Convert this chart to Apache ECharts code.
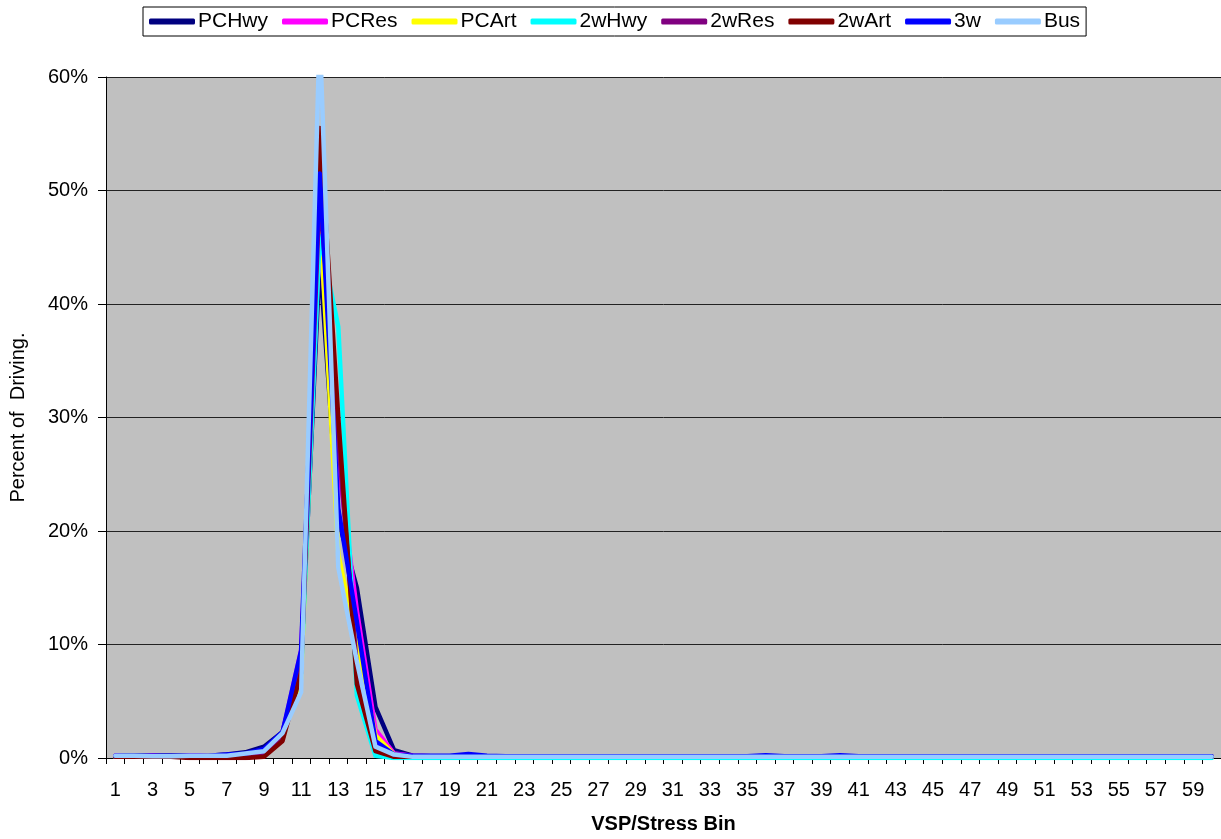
<!DOCTYPE html>
<html>
<head>
<meta charset="utf-8">
<script src="https://cdn.jsdelivr.net/npm/echarts@6/dist/echarts.min.js"></script>
<style>
html,body{margin:0;padding:0;background:#fff;}
#chart{width:1221px;height:839px;}
</style>
</head>
<body>
<div id="chart"></div>
<script>
var bins = [];
for (var i = 1; i <= 60; i++) bins.push(String(i));

var seriesNames = ['PCHwy','PCRes','PCArt','2wHwy','2wRes','2wArt','3w','Bus'];
var seriesColors = ['#000080','#FF00FF','#FFFF00','#00FFFF','#800080','#800000','#0000FF','#99CCFF'];

var PCHwy = [0.2,0.2,0.2,0.2,0.2,0.2,0.3,0.5,1.0,2.3,8.5,44,21,15,4.5,0.7,0.2,0.15,0.15,0.2,0.1,0.1,0.1,0.1,0.1,0.1,0.1,0.1,0.1,0.1,0.1,0.1,0.1,0.1,0.1,0.15,0.1,0.1,0.1,0.15,0.1,0.1,0.1,0.1,0.1,0.1,0.1,0.1,0.1,0.1,0.1,0.1,0.1,0.1,0.1,0.1,0.1,0.1,0.1,0.1];
var PCRes = [0.2,0.1,0.2,0.1,0.2,0.2,0.2,0.3,0.7,2.2,9.5,46,26,13,2.5,0.4,0.2,0.15,0.1,0.2,0.1,0.1,0.1,0.1,0.1,0.1,0.1,0.1,0.1,0.1,0.1,0.1,0.1,0.1,0.1,0.15,0.1,0.1,0.1,0.1,0.1,0.1,0.1,0.1,0.1,0.1,0.1,0.1,0.1,0.1,0.1,0.1,0.1,0.1,0.1,0.1,0.1,0.1,0.1,0.1];
var PCArt = [0.1,0.1,0.1,0.1,0.1,0.2,0.2,0.3,0.6,2.0,7.0,48,18,10,2.0,0.3,0.1,0.1,0.1,0.15,0.1,0.1,0.1,0.1,0.1,0.1,0.1,0.1,0.1,0.1,0.1,0.1,0.1,0.1,0.1,0.1,0.1,0.1,0.1,0.1,0.1,0.1,0.1,0.1,0.1,0.1,0.1,0.1,0.1,0.1,0.1,0.1,0.1,0.1,0.1,0.1,0.1,0.1,0.1,0.1];
var w2Hwy = [0.1,0.1,0.1,0.1,0.1,0.1,0.1,0.1,0.3,1.8,7.5,46,38,5.5,0.2,0.0,0.0,0.0,0.0,0.0,0.0,0.0,0.0,0.0,0.0,0.0,0.0,0.0,0.0,0.0,0.0,0.0,0.0,0.0,0.0,0.0,0.0,0.0,0.0,0.0,0.0,0.0,0.0,0.0,0.0,0.0,0.0,0.0,0.0,0.0,0.0,0.0,0.0,0.0,0.0,0.0,0.0,0.0,0.0,0.0];
var w2Res = [0.1,0.1,0.1,0.1,0.1,0.1,0.1,0.1,0.3,1.7,8.0,50,28,8.0,1.0,0.2,0.1,0.1,0.1,0.2,0.1,0.1,0.1,0.1,0.1,0.1,0.1,0.1,0.1,0.1,0.1,0.1,0.1,0.1,0.1,0.1,0.1,0.1,0.1,0.1,0.1,0.1,0.1,0.1,0.1,0.1,0.1,0.1,0.1,0.1,0.1,0.1,0.1,0.1,0.1,0.1,0.1,0.1,0.1,0.1];
var w2Art = [0.1,0.1,0.1,0.1,0.0,0.0,0.0,0.0,0.1,1.5,7.5,55.5,30,6.5,0.6,0.1,0.1,0.1,0.1,0.1,0.1,0.1,0.1,0.1,0.1,0.1,0.1,0.1,0.1,0.1,0.1,0.1,0.1,0.1,0.1,0.1,0.1,0.1,0.1,0.1,0.1,0.1,0.1,0.1,0.1,0.1,0.1,0.1,0.1,0.1,0.1,0.1,0.1,0.1,0.1,0.1,0.1,0.1,0.1,0.1];
var w3 = [0.2,0.2,0.2,0.2,0.2,0.2,0.3,0.4,0.8,2.3,9.5,51.5,22,12,1.5,0.3,0.2,0.2,0.2,0.35,0.2,0.15,0.15,0.15,0.15,0.15,0.15,0.15,0.15,0.15,0.15,0.15,0.15,0.15,0.15,0.25,0.15,0.15,0.15,0.25,0.15,0.15,0.15,0.15,0.15,0.15,0.15,0.15,0.15,0.15,0.15,0.15,0.15,0.15,0.15,0.15,0.15,0.15,0.15,0.15];
var Bus = [0.2,0.2,0.15,0.15,0.2,0.2,0.2,0.4,0.6,2.2,5.8,64,16.8,8.5,1.0,0.3,0.1,0.1,0.1,0.1,0.1,0.1,0.1,0.1,0.1,0.1,0.1,0.1,0.1,0.1,0.1,0.1,0.1,0.1,0.1,0.1,0.1,0.1,0.1,0.1,0.1,0.1,0.1,0.1,0.1,0.1,0.1,0.1,0.1,0.1,0.1,0.1,0.1,0.1,0.1,0.1,0.1,0.1,0.1,0.1];

var yTicks = [0,10,20,30,40,50,60];

var allData = [PCHwy, PCRes, PCArt, w2Hwy, w2Res, w2Art, w3, Bus];

var FONT = 'Liberation Sans, Arial, sans-serif';

var chart = echarts.init(document.getElementById('chart'), null, {renderer:'canvas'});
chart.setOption({
  animation: false,
  backgroundColor: '#ffffff',
  color: seriesColors,
  legend: {
    data: seriesNames,
    left: 143,
    top: 7,
    orient: 'horizontal',
    icon: 'roundRect',
    itemWidth: 46,
    itemHeight: 6,
    itemGap: 14,
    padding: [4, 6],
    borderColor: '#000',
    borderWidth: 1,
    backgroundColor: '#fff',
    textStyle: {fontFamily: FONT, fontSize: 21, color: '#000', padding: [0,0,0,-2]}
  },
  grid: {
    left: 105, right: -5, top: 77, bottom: 81,
    show: true, backgroundColor: '#C0C0C0', borderWidth: 0
  },
  xAxis: {
    type: 'category',
    data: bins,
    boundaryGap: true,
    name: 'VSP/Stress Bin',
    nameLocation: 'middle',
    nameGap: 56,
    nameTextStyle: {fontFamily: FONT, fontSize: 20, fontWeight: 'bold', color: '#000'},
    axisLine: {show: true, lineStyle: {color: '#000', width: 1}},
    axisTick: {show: true, interval: 0, length: 6, lineStyle: {color: '#000'}},
    axisLabel: {interval: 1, fontFamily: FONT, fontSize: 20, color: '#000', margin: 22},
    splitLine: {show: false}
  },
  yAxis: {
    type: 'value',
    min: yTicks[0],
    max: yTicks[yTicks.length - 1],
    interval: 10,
    name: 'Percent of  Driving.',
    nameLocation: 'middle',
    nameGap: 78,
    nameTextStyle: {fontFamily: FONT, fontSize: 20, color: '#000'},
    axisLine: {show: true, lineStyle: {color: '#000', width: 1}},
    axisTick: {show: true, length: 8, lineStyle: {color: '#000'}},
    axisLabel: {fontFamily: FONT, fontSize: 20, color: '#000', margin: 18, formatter: '{value}%'},
    splitLine: {show: true, lineStyle: {color: '#222', width: 1}}
  },
  series: seriesNames.map(function (n, i) {
    return {
      name: n,
      type: 'line',
      data: allData[i],
      showSymbol: false,
      symbol: 'none',
      clip: true,
      lineStyle: {width: 4.5, color: seriesColors[i], join: 'round', cap: 'round'},
      itemStyle: {color: seriesColors[i]}
    };
  })
});
</script>
</body>
</html>
